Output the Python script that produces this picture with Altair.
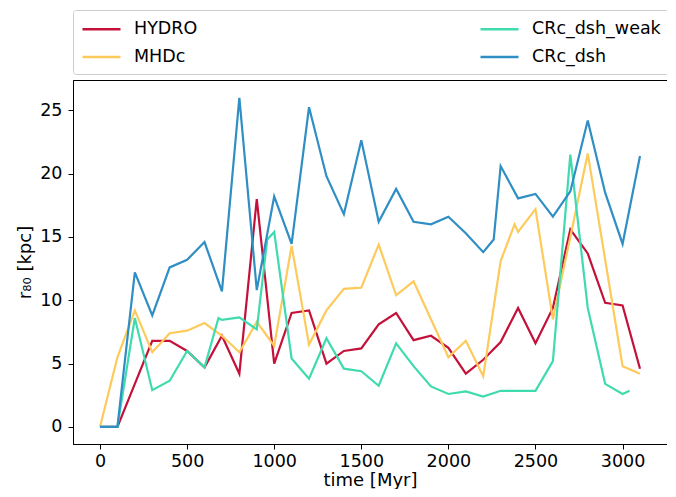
import altair as alt
import pandas as pd

# ---- data ----
hydro_t = [0, 100, 200, 300, 400, 500, 600, 700, 800, 900, 1000, 1100, 1200, 1300, 1400, 1500,
           1600, 1700, 1800, 1900, 2000, 2100, 2200, 2300, 2400, 2500, 2600, 2700, 2800, 2900, 3000, 3100]
hydro_r = [0, 0, 3.4, 6.8, 6.8, 6.0, 4.7, 7.2, 4.2, 18.0, 5.0, 9.0, 9.2, 5.0, 6.0, 6.2,
           8.1, 9.0, 6.85, 7.2, 6.25, 4.2, 5.3, 6.7, 9.4, 6.6, 9.4, 15.6, 13.7, 9.8, 9.6, 4.6]

mhdc_t = [0, 100, 200, 300, 400, 500, 600, 700, 800, 900, 1000, 1100, 1200, 1300, 1400, 1500,
          1600, 1700, 1800, 1900, 2000, 2100, 2200, 2300, 2380, 2400, 2500, 2600, 2700, 2800, 2900, 3000, 3100]
mhdc_r = [0, 5.5, 9.2, 5.9, 7.4, 7.6, 8.2, 7.2, 5.9, 8.3, 6.4, 14.3, 6.5, 9.2, 10.9, 11.0,
          14.4, 10.4, 11.5, 8.5, 5.5, 6.8, 4.0, 13.1, 16.0, 15.4, 17.2, 8.5, 15.0, 21.6, 13.2, 4.8, 4.2]

weak_t = [0, 100, 200, 300, 400, 500, 600, 680, 700, 800, 900, 960, 1000, 1100, 1200, 1300, 1400, 1500,
          1600, 1700, 1800, 1900, 2000, 2100, 2200, 2300, 2400, 2500, 2600, 2700, 2800, 2900, 3000, 3040]
weak_r = [0, 0, 8.6, 2.9, 3.65, 6.0, 4.7, 8.6, 8.45, 8.65, 7.7, 14.8, 15.4, 5.4, 3.8, 7.0, 4.6, 4.4,
          3.25, 6.6, 4.8, 3.2, 2.6, 2.8, 2.4, 2.85, 2.85, 2.85, 5.2, 21.5, 9.4, 3.4, 2.6, 2.85]

dsh_t = [0, 100, 200, 300, 400, 500, 600, 700, 800, 900, 1000, 1100, 1200, 1300, 1400, 1500,
         1600, 1700, 1800, 1900, 2000, 2100, 2200, 2260, 2300, 2400, 2500, 2600, 2700, 2800, 2900, 3000, 3100]
dsh_r = [0, 0, 12.2, 8.8, 12.6, 13.2, 14.6, 10.7, 26.0, 10.8, 18.2, 14.45, 25.25, 19.8, 16.8, 22.65,
         16.2, 18.8, 16.2, 16.0, 16.6, 15.3, 13.8, 14.8, 20.6, 18.05, 18.4, 16.6, 18.6, 24.2, 18.5, 14.45, 21.4]

series_names = ["HYDRO", "MHDc", "CRc_dsh_weak", "CRc_dsh"]
series_colors = ["#c3113a", "#fdca5c", "#3fdbae", "#2f8ec3"]

x_ticks = [0, 500, 1000, 1500, 2000, 2500, 3000]
y_ticks = [0, 5, 10, 15, 20, 25]

rows = []
for name, ts, rs in [("HYDRO", hydro_t, hydro_r), ("MHDc", mhdc_t, mhdc_r),
                     ("CRc_dsh_weak", weak_t, weak_r), ("CRc_dsh", dsh_t, dsh_r)]:
    for t, r in zip(ts, rs):
        rows.append({"series": name, "time": t, "r80": r})
df = pd.DataFrame(rows)

color_scale = alt.Scale(domain=series_names, range=series_colors)
FONT = "DejaVu Sans"

legend = alt.Legend(
    title=None, orient="none", legendX=0, legendY=-70, columns=2, columnPadding=277,
    rowPadding=8, symbolType="M-1,0L3,0", symbolSize=361, symbolStrokeWidth=2.5,
    labelFontSize=17.5, labelFont=FONT, labelColor="#000000", labelOffset=31,
    strokeColor="#cccccc", fillColor="#ffffff", padding=8, cornerRadius=3,
)

base = alt.Chart(df)
layers = []
for name in series_names:
    layers.append(
        base.transform_filter(alt.datum.series == name).mark_line(strokeWidth=2.2).encode(
            x=alt.X("time:Q", scale=alt.Scale(domain=[-155, 3255], nice=False, zero=False),
                    axis=alt.Axis(values=x_ticks, format="d", title="time [Myr]",
                                  labelPadding=3, titlePadding=2)),
            y=alt.Y("r80:Q", scale=alt.Scale(domain=[-1.35, 27.4], nice=False, zero=False),
                    axis=alt.Axis(values=y_ticks, format="d", title="r₈₀ [kpc]",
                                  labelPadding=6, titlePadding=5)),
            color=alt.Color("series:N", scale=color_scale, legend=legend),
        )
    )

chart = alt.layer(*layers).properties(
    width=594, height=364,
    autosize=alt.AutoSizeParams(type="none"),
    padding={"left": 65, "top": 72, "right": 0, "bottom": 45},
).configure_view(
    stroke="#000000", strokeWidth=1
).configure_axis(
    grid=False, domainColor="#000000", tickColor="#000000", tickSize=5,
    labelFont=FONT, labelFontSize=17.5, labelColor="#000000",
    titleFont=FONT, titleFontSize=18, titleFontWeight="normal", titleColor="#000000",
)

chart.save("out.html", embed_options={"renderer": "svg", "actions": False})
